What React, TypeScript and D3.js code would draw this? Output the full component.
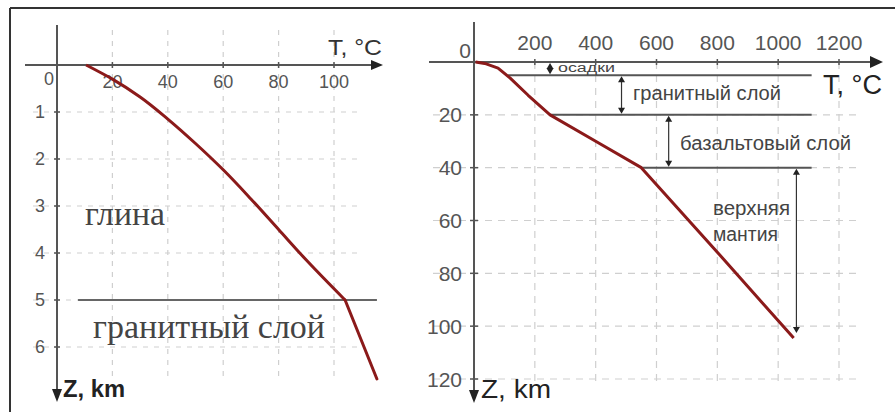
import React from 'react';
import * as d3 from 'd3';

// Left panel: clay over granite, shallow borehole
const leftXTicks = [20, 40, 60, 80, 100];
const leftYTicks = [1, 2, 3, 4, 5, 6];
// smooth part (clay), ends at the boundary
const leftTemp = [10.5, 20, 30, 40, 50, 60, 70, 80, 90, 104];
const leftDepth = [0, 0.3, 0.68, 1.15, 1.67, 2.23, 2.85, 3.5, 4.15, 5.0];
// granite part
const graniteTemp = [104, 115.5];
const graniteDepth = [5.0, 6.68];
const leftBoundary = { depth: 5, from: 7.6, to: 115.5 };

// Right panel: crust and upper mantle
const rightXTicks = [200, 400, 600, 800, 1000, 1200];
const rightYTicks = [20, 40, 60, 80, 100, 120];
const rightTemp = [5, 40, 79, 119, 178, 250, 400, 550, 800, 1051];
const rightDepth = [0, 0.7, 2.3, 6.1, 12.6, 20, 30, 40, 72, 104.5];
const layerDepths = [5, 20, 40];
const layerStartTemp = [112, 250, 550];
const layerEnd = 1110;
const layerArrows = [
  { t: 250, z0: 0, z1: 5 },
  { t: 485, z0: 5, z1: 20 },
  { t: 640, z0: 20, z1: 40 },
  { t: 1060, z0: 40, z1: 103 },
];

const AXIS = '#555';
const GRID = '#cfcfcf';
const RED = '#8b1a1a';
const TICK_FONT = '"Liberation Sans Narrow", "Liberation Sans", Arial, sans-serif';
const SANS = '"Liberation Sans", Arial, sans-serif';
const SERIF = '"Liberation Serif", "Times New Roman", serif';

function DoubleArrow({ x, y0, y1 }: { x: number; y0: number; y1: number }) {
  const h = 6;
  const w = 3.5;
  return (
    <g fill="#222" stroke="none">
      <line x1={x} x2={x} y1={y0 + 2} y2={y1 - 2} stroke="#333" strokeWidth={1.2} />
      <path d={`M${x},${y0} L${x - w},${y0 + h} L${x + w},${y0 + h} Z`} />
      <path d={`M${x},${y1} L${x - w},${y1 - h} L${x + w},${y1 - h} Z`} />
    </g>
  );
}

export default function App() {
  const xL = d3.scaleLinear().domain([0, 100]).range([57, 334]);
  const yL = d3.scaleLinear().domain([0, 6]).range([65, 347]);
  const xR = d3.scaleLinear().domain([0, 1200]).range([474, 839]);
  const yR = d3.scaleLinear().domain([0, 120]).range([62, 379]);

  const clayLine = d3
    .line<number>()
    .x((_, i) => xL(leftTemp[i]))
    .y((d) => yL(d))
    .curve(d3.curveMonotoneY)(leftDepth);
  const graniteLine = d3
    .line<number>()
    .x((_, i) => xL(graniteTemp[i]))
    .y((d) => yL(d))(graniteDepth);

  const rightLine = d3
    .line<number>()
    .x((_, i) => xR(rightTemp[i]))
    .y((d) => yR(d))
    .curve(d3.curveLinear)(rightDepth);

  const lx0 = xL(0);
  const ly0 = yL(0);
  const rx0 = xR(0);
  const ry0 = yR(0);

  return (
    <div style={{ position: 'absolute', left: 0, top: 0 }}>
      <svg width={895} height={412} style={{ display: 'block', background: '#fff' }}>
        {/* frame */}
        <line x1={10} x2={895} y1={8} y2={8} stroke="#333" strokeWidth={2} />
        <line x1={10} x2={10} y1={8} y2={412} stroke="#333" strokeWidth={2} />

        {/* ---------- left panel ---------- */}
        <g stroke={GRID} strokeWidth={1.2} strokeDasharray="5,6">
          {leftXTicks.map((t) => (
            <line key={'lv' + t} x1={xL(t)} x2={xL(t)} y1={30} y2={381} />
          ))}
          {leftYTicks.map((t) => (
            <line key={'lh' + t} x1={33} x2={362} y1={yL(t)} y2={yL(t)} />
          ))}
        </g>

        <line
          x1={xL(leftBoundary.from)}
          x2={xL(leftBoundary.to)}
          y1={yL(leftBoundary.depth)}
          y2={yL(leftBoundary.depth)}
          stroke="#666"
          strokeWidth={2}
        />

        <g stroke={AXIS} strokeWidth={2}>
          <line x1={25} x2={374} y1={ly0} y2={ly0} />
          <line x1={lx0} x2={lx0} y1={25} y2={390} />
          {leftXTicks.map((t) => (
            <line key={'ltx' + t} x1={xL(t)} x2={xL(t)} y1={ly0 - 3} y2={ly0 + 3} strokeWidth={1.5} />
          ))}
          {leftYTicks.map((t) => (
            <line key={'lty' + t} x1={lx0 - 3} x2={lx0 + 3} y1={yL(t)} y2={yL(t)} strokeWidth={1.5} />
          ))}
        </g>
        <path d={`M383,${ly0} L371,${ly0 - 5} L371,${ly0 + 5} Z`} fill="#222" />
        <path d={`M${lx0},402 L${lx0 - 5},389 L${lx0 + 5},389 Z`} fill="#222" />

        <g fontFamily={TICK_FONT} fontSize={18} fill="#555">
          <text x={49} y={85} textAnchor="middle">0</text>
          {leftXTicks.map((t) => (
            <text key={'lxl' + t} x={xL(t)} y={88} textAnchor="middle">
              {t}
            </text>
          ))}
          {leftYTicks.map((t) => (
            <text key={'lyl' + t} x={45} y={yL(t)} textAnchor="end" dominantBaseline="central">
              {t}
            </text>
          ))}
        </g>

        <path d={clayLine ?? ''} fill="none" stroke={RED} strokeWidth={3} strokeLinejoin="round" />
        <path d={graniteLine ?? ''} fill="none" stroke={RED} strokeWidth={3} strokeLinecap="round" />

        <text x={328} y={55} fontFamily={SANS} fontSize={22} fill="#333" textLength={54} lengthAdjust="spacingAndGlyphs">
          T, °C
        </text>
        <text x={63} y={397} fontFamily={SANS} fontSize={23} fontWeight="bold" fill="#222" textLength={62} lengthAdjust="spacingAndGlyphs">
          Z, km
        </text>
        <text x={85} y={225} fontFamily={SERIF} fontSize={33} fill="#444" textLength={80} lengthAdjust="spacingAndGlyphs">
          глина
        </text>
        <text x={93} y={338} fontFamily={SERIF} fontSize={34} fill="#444" textLength={232} lengthAdjust="spacingAndGlyphs">
          гранитный слой
        </text>

        {/* ---------- right panel ---------- */}
        <g stroke={GRID} strokeWidth={1.2} strokeDasharray="7,6">
          {rightXTicks.map((t) => (
            <line key={'rv' + t} x1={xR(t)} x2={xR(t)} y1={ry0} y2={382} />
          ))}
          {rightYTicks.map((t) => (
            <line key={'rh' + t} x1={433} x2={858} y1={yR(t)} y2={yR(t)} />
          ))}
        </g>

        <g stroke="#555" strokeWidth={2}>
          {layerDepths.map((z, i) => (
            <line key={'ly' + z} x1={xR(layerStartTemp[i])} x2={xR(layerEnd)} y1={yR(z)} y2={yR(z)} />
          ))}
        </g>

        <g stroke={AXIS} strokeWidth={2}>
          <line x1={429} x2={872} y1={ry0} y2={ry0} />
          <line x1={rx0} x2={rx0} y1={22} y2={391} />
          {rightXTicks.map((t) => (
            <line key={'rtx' + t} x1={xR(t)} x2={xR(t)} y1={ry0 - 3} y2={ry0 + 3} strokeWidth={1.5} />
          ))}
          {rightYTicks.map((t) => (
            <line key={'rty' + t} x1={rx0 - 4} x2={rx0 + 4} y1={yR(t)} y2={yR(t)} strokeWidth={1.5} />
          ))}
        </g>
        <path d={`M883,${ry0} L870,${ry0 - 6} L870,${ry0 + 6} Z`} fill="#222" />
        <path d={`M${rx0},403 L${rx0 - 5},390 L${rx0 + 5},390 Z`} fill="#222" />

        <g fontFamily={TICK_FONT} fontSize={21} fill="#555">
          <text x={465} y={58} textAnchor="middle">0</text>
          {rightXTicks.map((t) => (
            <text key={'rxl' + t} x={xR(t)} y={50} textAnchor="middle">
              {t}
            </text>
          ))}
          {rightYTicks.map((t) => (
            <text key={'ryl' + t} x={462} y={yR(t)} textAnchor="end" dominantBaseline="central">
              {t}
            </text>
          ))}
        </g>

        <path d={rightLine ?? ''} fill="none" stroke={RED} strokeWidth={3} strokeLinejoin="round" />

        {layerArrows.map((a) => (
          <DoubleArrow key={'a' + a.t} x={xR(a.t)} y0={yR(a.z0) + 1} y1={yR(a.z1) - 1} />
        ))}

        <g fontFamily={SANS} fill="#444">
          <text x={558} y={72} fontSize={12} textLength={57} lengthAdjust="spacingAndGlyphs">
            осадки
          </text>
          <text x={633} y={100} fontSize={20} textLength={148} lengthAdjust="spacingAndGlyphs">
            гранитный слой
          </text>
          <text x={680} y={150} fontSize={20} textLength={171} lengthAdjust="spacingAndGlyphs">
            базальтовый слой
          </text>
          <text x={713} y={215} fontSize={20} textLength={77} lengthAdjust="spacingAndGlyphs">
            верхняя
          </text>
          <text x={713} y={241} fontSize={20} textLength={65} lengthAdjust="spacingAndGlyphs">
            мантия
          </text>
        </g>

        <text x={823} y={94} fontFamily={SANS} fontSize={27} fill="#222" textLength={59} lengthAdjust="spacingAndGlyphs">
          T, °C
        </text>
        <text x={481} y={398} fontFamily={SANS} fontSize={26} fill="#222" textLength={70} lengthAdjust="spacingAndGlyphs">
          Z, km
        </text>
      </svg>
    </div>
  );
}
